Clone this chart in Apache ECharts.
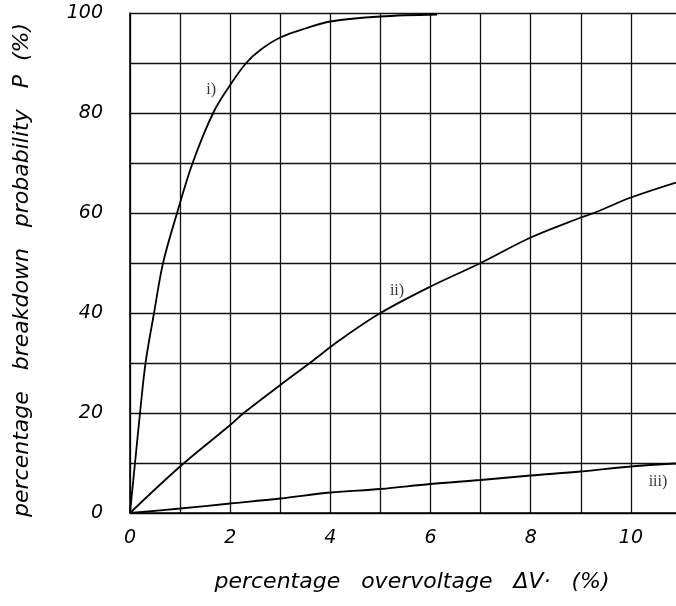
<!DOCTYPE html>
<html><head><meta charset="utf-8">
<script src="https://cdn.jsdelivr.net/npm/echarts@6/dist/echarts.min.js"></script>
<style>html,body{margin:0;padding:0;background:#fff}#c{width:676px;height:606px}</style>
</head><body><div id="c"></div>
<script>
// Curve i)
const curveIx = [0, 0.1, 0.2, 0.31, 0.48, 0.66, 0.94, 1.25, 1.66, 2.0, 2.32, 2.6, 3.0, 3.5, 4.0, 5.0, 6.13];
const curveIy = [0, 10, 20, 30, 40, 50, 60, 70, 80, 85.6, 90, 92.6, 95.1, 96.9, 98.3, 99.3, 99.7];
// Curve ii)
const curveIIx = [0, 1, 2, 2.27, 3, 3.59, 4.19, 5, 6, 7, 8, 9, 9.26, 10, 10.9];
const curveIIy = [0, 9.3, 17.6, 20, 25.6, 30, 34.6, 40, 45.3, 50, 55.1, 59.1, 60, 63.1, 66.1];
// Curve iii)
const curveIIIx = [0, 1, 2, 3, 4, 5, 6, 7, 8, 9, 10, 10.9];
const curveIIIy = [0, 0.9, 1.9, 2.9, 4.1, 4.8, 5.8, 6.6, 7.5, 8.3, 9.3, 9.9];
// Curve labels (anchor positions in data units)
const labelNames = ['i)', 'ii)', 'iii)'];
const labelX = [1.62, 5.33, 10.54];
const labelY = [84.6, 44.4, 6.2];
// Tick labels
const xTickLabels = [0, 2, 4, 6, 8, 10];
const yTickLabels = [0, 20, 40, 60, 80, 100];
const xTitle = 'percentage   overvoltage   \u0394V\u00b7   (%)';
const yTitle = 'percentage   breakdown   probability   P  (%)';

const zip = (a, b) => a.map((v, i) => [v, b[i]]);
const hand = { fontFamily: 'DejaVu Sans', fontStyle: 'italic', color: '#000' };

const chart = echarts.init(document.getElementById('c'), null, { renderer: 'canvas' });
const lineStyle = { color: '#000', width: 1.8 };
chart.setOption({
  animation: false,
  backgroundColor: '#fff',
  grid: { left: 130, top: 13, right: -5, bottom: 93, containLabel: false, outerBoundsMode: 'none' },
  xAxis: {
    type: 'value', min: 0, max: 11, interval: 1,
    axisLine: { show: true, onZero: false, lineStyle: { color: '#000', width: 1.6 } },
    axisTick: { show: false },
    splitLine: { show: true, lineStyle: { color: '#111', width: 1.3 } },
    axisLabel: Object.assign({ fontSize: 19, margin: 16, showMaxLabel: false,
      formatter: v => xTickLabels.includes(v) ? String(v) : '' }, hand)
  },
  yAxis: {
    type: 'value', min: 0, max: 100, interval: 10,
    axisLine: { show: true, lineStyle: { color: '#000', width: 1.6 } },
    axisTick: { show: false },
    splitLine: { show: true, lineStyle: { color: '#111', width: 1.3 } },
    axisLabel: Object.assign({ fontSize: 19, margin: 27,
      formatter: v => yTickLabels.includes(v) ? String(v) : '' }, hand)
  },
  graphic: [
    { type: 'text', x: 412, y: 582, style: { text: xTitle, fontSize: 22, fill: '#000', fontFamily: 'DejaVu Sans', fontStyle: 'italic',
        align: 'center', verticalAlign: 'middle' } },
    { type: 'text', x: 22, y: 270, rotation: Math.PI / 2, style: { text: yTitle, fontSize: 22, fill: '#000', fontFamily: 'DejaVu Sans', fontStyle: 'italic',
        align: 'center', verticalAlign: 'middle' } }
  ],
  series: [
    { type: 'line', data: zip(curveIx, curveIy), symbol: 'none', smooth: 0.35, lineStyle, z: 3 },
    { type: 'line', data: zip(curveIIx, curveIIy), symbol: 'none', smooth: 0.35, lineStyle, z: 3 },
    { type: 'line', data: zip(curveIIIx, curveIIIy), symbol: 'none', smooth: 0.35, lineStyle, z: 3 },
    { type: 'scatter', symbolSize: 0, z: 4,
      data: labelNames.map((n, i) => ({ value: [labelX[i], labelY[i]], name: n })),
      label: { show: true, position: 'inside', formatter: p => p.name,
        fontFamily: 'Liberation Serif', fontSize: 16, color: '#000' } }
  ]
});
</script></body></html>
